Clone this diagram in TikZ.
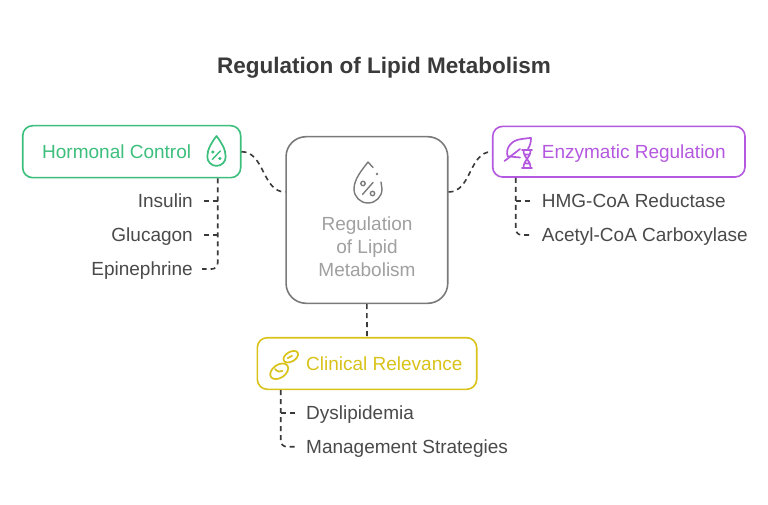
\documentclass[tikz,border=0pt]{standalone}
\usepackage{fontspec}
\setmainfont{Liberation Sans}
\definecolor{hgreen}{HTML}{3CBF7C}
\definecolor{epurple}{HTML}{B558E0}
\definecolor{cyellow}{HTML}{D9C31A}
\definecolor{centergray}{HTML}{7A7A7A}
\definecolor{centertext}{HTML}{A0A0A0}
\definecolor{itemgray}{HTML}{4A4A4A}
\definecolor{titlegray}{HTML}{3A3A3A}
\definecolor{linegray}{HTML}{3A3A3A}
\begin{document}
\begin{tikzpicture}[x=1pt,y=1pt,
  lbl/.style={font=\fontsize{19}{23}\selectfont, text height=13.6pt, text depth=0pt, inner sep=0pt},
  item/.style={lbl, text=itemgray, inner xsep=9pt, inner ysep=0pt},
  box/.style={draw, rounded corners=10pt, line width=1.6pt, inner sep=0pt},
  dl/.style={draw=linegray, line width=1.6pt, dash pattern=on 5pt off 4pt},
  ico/.style={line width=1.7pt, line cap=round, line join=round}]
\fill[white] (0,0) rectangle (768,504);
\useasboundingbox (0,0) rectangle (768,504);

% title
\node[font=\bfseries\fontsize{22.5}{27}\selectfont, text=titlegray, text height=16pt, text depth=0pt, inner sep=0pt] (title) at (384,438) {Regulation of Lipid Metabolism};

% center box
\node[box, draw=centergray, rounded corners=20pt, minimum width=161.7pt, minimum height=166.6pt] (cb) at (366.9,284) {};
\node[font=\fontsize{19}{23}\selectfont, text=centertext, align=center, inner sep=0pt] (cbl) at (367,257.5) {Regulation\\of Lipid\\Metabolism};
% center icon
\draw[ico, draw=centergray, line width=1.4pt] (381,322) .. controls (382,319) .. (382,315) arc[start angle=0, end angle=-180, radius=14] .. controls (354,325) and (362,334) .. (368,342) -- (373,336.5);
\fill[centergray] (377,330) circle (1.4);
\draw[ico, draw=centergray, line width=1.4pt] (363,320.5) circle (2.2) (372.5,310.5) circle (2.2) (373,321.5) -- (362.5,309.5);

% hormonal control
\node[box, draw=hgreen, minimum width=218pt, minimum height=52pt] (hc) at (131.7,352.3) {};
\node[lbl, text=hgreen, anchor=west] (hcl) at (42,352) {Hormonal Control};
\draw[ico, draw=hgreen] (216.5,368) .. controls (212,362) and (207.3,355) .. (207.3,347.3) arc[start angle=180, end angle=360, radius=9.2] .. controls (225.7,355) and (221,362) .. (216.5,368) -- cycle;
\fill[hgreen] (212.8,352) circle (1.7) (219.8,345.5) circle (1.7);
\draw[ico, draw=hgreen, line width=1.4pt] (220.3,353) -- (212.3,344.5);

% enzymatic regulation
\node[box, draw=epurple, minimum width=252.3pt, minimum height=50.7pt] (ez) at (618.85,352.3) {};
\node[lbl, text=epurple, anchor=west] (ezl) at (541.7,352) {Enzymatic Regulation};
\draw[ico, draw=epurple] (507.7,347.7) .. controls (505,355) and (511,363.5) .. (520,364.7) .. controls (525,365.5) and (529,366) .. (531,366) .. controls (531,362) and (530,358) .. (528,355.3);
\draw[ico, draw=epurple] (507.7,347.7) -- (520,346.5);
\draw[ico, draw=epurple] (504.5,343) -- (520,355);
\draw[ico, draw=epurple] (522,354) -- (532,354) (522,336) -- (532,336)
  (523.5,354) .. controls (523.5,345) and (530.5,345) .. (530.5,336)
  (530.5,354) .. controls (530.5,345) and (523.5,345) .. (523.5,336)
  (525,349.5) -- (529,349.5) (525,340.5) -- (529,340.5);

% clinical relevance
\node[box, draw=cyellow, minimum width=219.4pt, minimum height=51.6pt] (cr) at (367,140.5) {};
\node[lbl, text=cyellow, anchor=west] (crl) at (306,140.7) {Clinical Relevance};
\draw[ico, draw=cyellow] (279.2,132.7) ellipse [x radius=10, y radius=6.5, rotate=35];
\draw[ico, draw=cyellow] (290.8,147.3) ellipse [x radius=8, y radius=4.8, rotate=30];
\draw[ico, draw=cyellow] (275,135) .. controls (277.5,132) and (280.5,132) .. (282.5,133);
\draw[ico, draw=cyellow] (287.7,145.8) -- (292,148.2);

% items
\node[item, anchor=east] (ins) at (202,303) {Insulin};
\node[item, anchor=east] (glu) at (202,269) {Glucagon};
\node[item, anchor=east] (epi) at (202,235) {Epinephrine};
\node[item, anchor=west] (hmg) at (532.7,303) {HMG-CoA Reductase};
\node[item, anchor=west] (acc) at (532.7,269) {Acetyl-CoA Carboxylase};
\node[item, anchor=west] (dys) at (297,91.3) {Dyslipidemia};
\node[item, anchor=west] (mgmt) at (297,57.3) {Management Strategies};

% connectors
\draw[dl] (hc.east) to[out=0, in=180] ([yshift=28pt]cb.west);
\draw[dl] ([yshift=28pt]cb.east) to[out=0, in=180] (ez.west);
\draw[dl] (cb.south) -- (cr.north);

\coordinate (hcv) at ([xshift=86pt]hc.south);
\draw[dl, rounded corners=6pt] (hcv) |- (epi.east);
\draw[dl] (ins.east -| hcv) -- (ins.east);
\draw[dl] (glu.east -| hcv) -- (glu.east);

\coordinate (ezv) at ([xshift=-103.15pt]ez.south);
\draw[dl, rounded corners=6pt] (ezv) |- (acc.west);
\draw[dl] (hmg.west -| ezv) -- (hmg.west);

\coordinate (crv) at ([xshift=-86.3pt]cr.south);
\draw[dl, rounded corners=6pt] (crv) |- (mgmt.west);
\draw[dl] (dys.west -| crv) -- (dys.west);
\end{tikzpicture}
\end{document}
